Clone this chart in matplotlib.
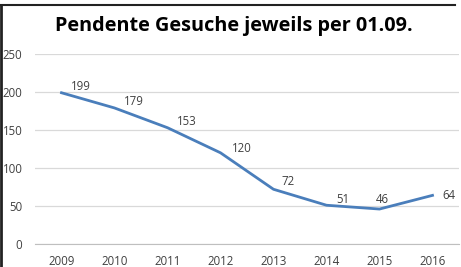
import matplotlib
matplotlib.use("Agg")
import matplotlib.pyplot as plt
from matplotlib.lines import Line2D

# data
years = ["2009", "2010", "2011", "2012", "2013", "2014", "2015", "2016"]
pending = [199, 179, 153, 120, 72, 51, 46, 64]
yticks = [0, 50, 100, 150, 200, 250]

plt.rcParams['font.family'] = ['Open Sans', 'DejaVu Sans']

W, H = 461, 267
fig = plt.figure(figsize=(W / 100, H / 100), dpi=100)
fig.patch.set_facecolor('white')

# axes placed in pixel coords: left 35, right 459, top 54, bottom 244
ax = fig.add_axes([35 / W, 1 - 244 / H, (459 - 35) / W, (244 - 54) / H])

x = list(range(len(years)))
ax.plot(x, pending, color='#4A7EBB', lw=2.0, solid_joinstyle='round')

# label placement (offset in points, horizontal alignment), as Excel put them
lab_pos = [((7, 4.3), 'left'), ((7, 4.3), 'left'), ((7, 4.3), 'left'),
           ((8, 3), 'left'), ((6, 5.5), 'left'), ((7, 4.3), 'left'),
           ((2, 7), 'center'), ((7, 0), 'left')]
for xi, v, (off, ha) in zip(x, pending, lab_pos):
    ax.annotate(str(v), (xi, v), xytext=off, textcoords='offset points',
                ha=ha, va='center', fontsize=8.3, color='#404040')

ax.set_xlim(-0.5, 7.5)
ax.set_ylim(0, 250)
ax.set_yticks(yticks)
ax.set_xticks(x)
ax.set_xticklabels(years)
ax.yaxis.grid(True, color='#D9D9D9', lw=0.9)
ax.set_axisbelow(True)
for s in ['left', 'right', 'top']:
    ax.spines[s].set_visible(False)
ax.spines['bottom'].set_color('#BFBFBF')
ax.tick_params(axis='both', length=0, labelsize=8.3, labelcolor='#404040')
ax.tick_params(axis='y', pad=9)
ax.tick_params(axis='x', pad=8)

fig.text(234 / W, 1 - 26 / H, "Pendente Gesuche jeweils per 01.09.",
         ha='center', va='center', fontsize=14.3, fontweight='bold', color='black')

# dark frame at top and left
fig.add_artist(Line2D([0, 455 / W], [1 - 5 / H, 1 - 5 / H], color='#222222', lw=1.5,
                      transform=fig.transFigure))
fig.add_artist(Line2D([1 / W, 1 / W], [0, 1 - 5 / H], color='#222222', lw=2,
                      transform=fig.transFigure))

fig.savefig('out.png', dpi=100)
